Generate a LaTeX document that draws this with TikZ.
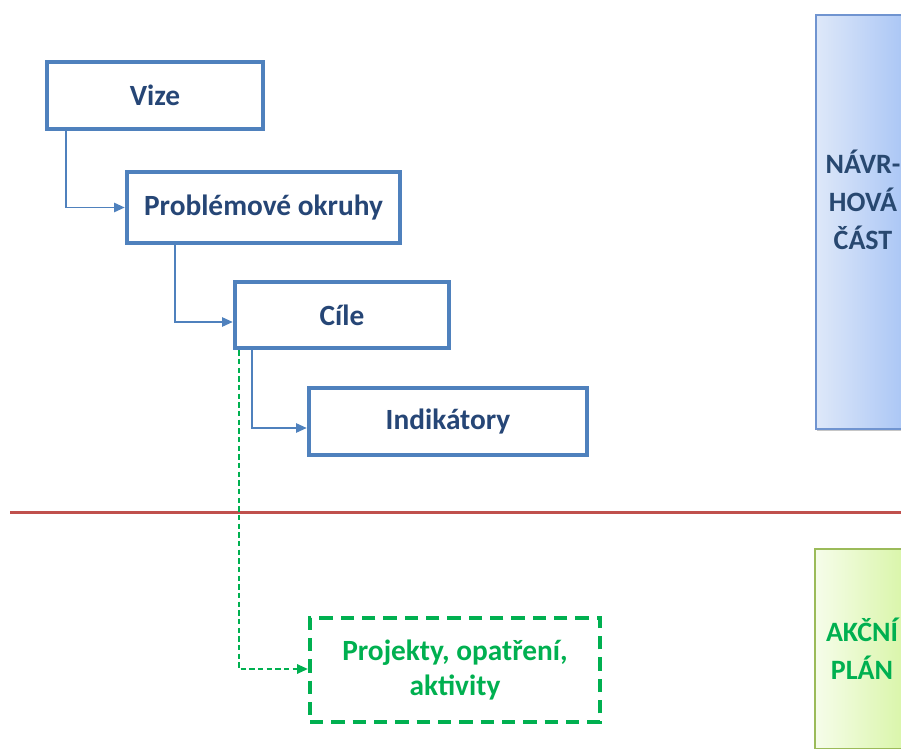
\documentclass[tikz,border=0pt]{standalone}
\usepackage{fontspec}
\setmainfont{Carlito}
\usetikzlibrary{arrows.meta,calc,shadows}

\definecolor{boxblue}{RGB}{79,129,189}
\definecolor{textblue}{RGB}{38,70,118}
\definecolor{akcegreen}{RGB}{0,176,80}
\definecolor{linered}{RGB}{192,80,77}
\definecolor{navrhborder}{RGB}{112,148,208}
\definecolor{akceborder}{RGB}{155,187,89}

\tikzset{every picture/.style={line width=0.75pt}}
\tikzset{
  krok/.style={draw=boxblue, line width=3.4pt, fill=white, inner sep=0pt,
    text=textblue, font=\bfseries\fontsize{22}{26}\selectfont},
  akcebox/.style={draw=akcegreen, line width=3.2pt, dash pattern=on 10pt off 6pt,
    fill=white, inner sep=0pt, align=center, text=akcegreen,
    font=\bfseries\fontsize{22}{26}\selectfont},
  cast/.style={inner sep=0pt, minimum width=70.5pt, align=center,
    font=\bfseries\fontsize{21}{28.5}\selectfont},
  spoj/.style={draw=boxblue, line width=1.2pt, -{Triangle[length=8pt,width=7pt]}},
  spojakce/.style={draw=akcegreen, line width=1.2pt, dash pattern=on 4pt off 2.5pt,
    -{Triangle[length=8pt,width=7pt]}}
}

\begin{document}
\begin{tikzpicture}[x=0.75pt,y=0.75pt,yscale=-1,xscale=1]
\useasboundingbox (0,0) rectangle (901,749);
\clip (0,0) rectangle (901,749);

% Sections on the right
\node[cast, draw=navrhborder, line width=1.5pt, left color={rgb,255:red,222;green,232;blue,249}, right color={rgb,255:red,167;green,196;blue,245},
  drop shadow={shadow xshift=0.8pt, shadow yshift=-1.5pt, opacity=0.45},
  minimum height=310.5pt] (navrh) at (863,222) {};
\node[cast, text={rgb,255:red,40;green,72;blue,112}] (navrhtext) at (863,200) {NÁVR-\\HOVÁ\\ČÁST};
\node[cast, draw=akceborder, line width=1.5pt, left color={rgb,255:red,246;green,253;blue,234}, right color={rgb,255:red,216;green,245;blue,166},
  minimum height=150pt, text=akcegreen] (akce) at (862,649) {AKČNÍ\\PLÁN};

% Dividing line
\draw[linered, line width=2.25pt] (10,512) -- (901,512);

% Boxes
\node[krok, minimum width=162pt, minimum height=50.25pt] (vize) at (155,95.5) {Vize};
\node[krok, minimum width=204.75pt, minimum height=53.25pt] (okruhy) at (263.5,207.5) {Problémové okruhy};
\node[krok, minimum width=160.5pt, minimum height=49.5pt] (cile) at (342,315) {Cíle};
\node[krok, minimum width=208.5pt, minimum height=50.25pt] (indikatory) at (448,421.5) {Indikátory};
\node[akcebox, minimum width=217.5pt, minimum height=78pt] (projekty) at (455,670) {Projekty, opatření,\\aktivity};

% Connections
\draw[spoj] (vize.south west) ++(21,0) |- (okruhy.west);
\draw[spoj] (okruhy.south west) ++(50,0) |- ($(cile.west)+(0,7)$);
\draw[spoj] (cile.south west) ++(19,0) |- ($(indikatory.west)+(0,6.5)$);
\draw[spojakce] (cile.south west) ++(6,0) |- ($(projekty.west)+(0,-1)$);

\end{tikzpicture}
\end{document}
